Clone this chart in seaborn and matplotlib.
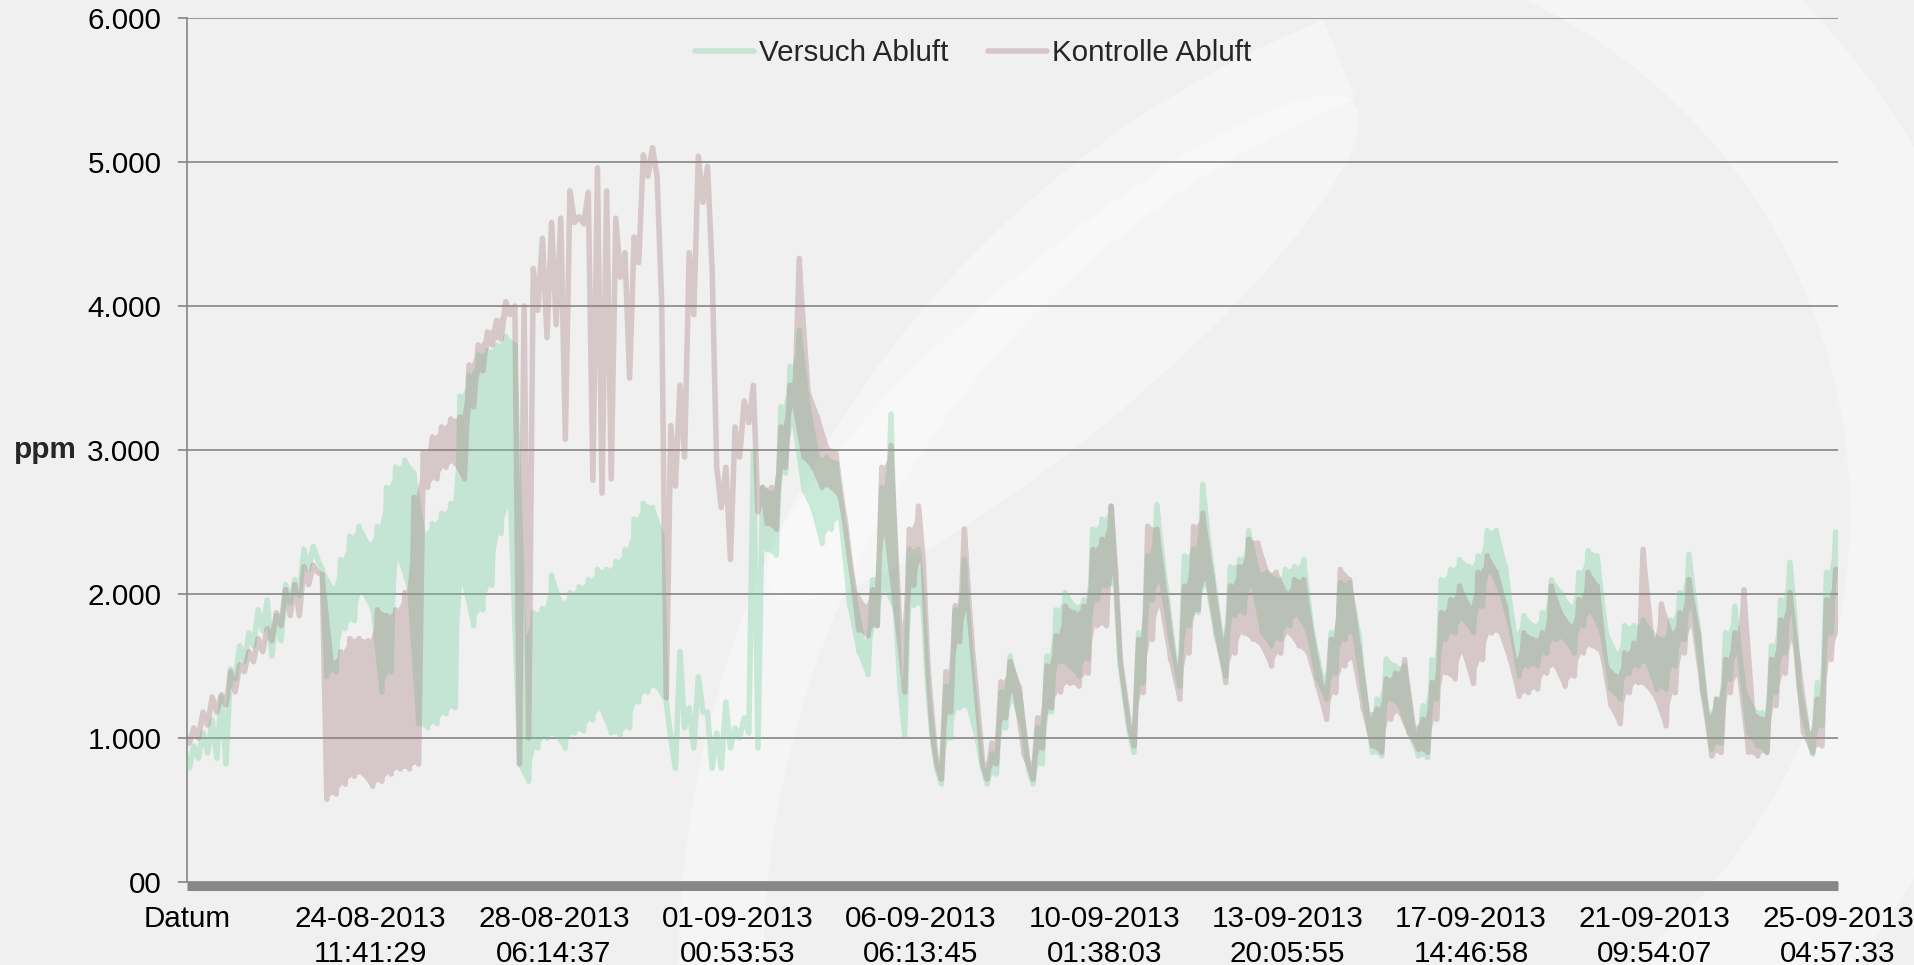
import numpy as np
import pandas as pd
import matplotlib
matplotlib.use("Agg")
import matplotlib.pyplot as plt
from matplotlib.patches import Wedge, Ellipse
from matplotlib.lines import Line2D
import seaborn as sns

# upper / lower value of each sample (ppm)
versuch_hi = [930, 945, 1035, 1125, 1285, 1480, 1640, 1730, 1890, 1960,
              1850, 2065, 2100, 2310, 2330, 2170, 2045, 2240, 2400, 2470,
              2350, 2470, 2740, 2880, 2930, 2840, 2420, 2490, 2560, 2630,
              3375, 3520, 3660, 3690, 3730, 3790, 3730, 1710, 1870, 1900,
              2130, 1940, 2010, 2050, 2100, 2170, 2170, 2225, 2310, 2520,
              2630, 2600, 2420, 1000, 1600, 1210, 1425, 1180, 1035, 1250,
              1070, 1140, 2990, 2740, 2700, 3300, 3580, 3830, 3300, 2950,
              2950, 2910, 2450, 1990, 1670, 2100, 2740, 3250, 1350, 2310,
              2310, 1355, 785, 1355, 1890, 2240, 1355, 785, 890, 1320,
              1570, 1320, 785, 1070, 1570, 1890, 2010, 1915, 1960, 2450,
              2520, 2610, 1500, 1035, 1730, 2265, 2620, 2055, 1545, 2265,
              2310, 2760, 2190, 1730, 2190, 2240, 2440, 2150, 2150, 2100,
              2170, 2190, 2240, 1730, 1430, 1730, 2080, 2080, 1730, 1130,
              1270, 1550, 1500, 1500, 1035, 1225, 1545, 2100, 2170, 2240,
              2190, 2265, 2440, 2440, 2190, 1730, 1850, 1780, 1870, 2100,
              2010, 1915, 2150, 2300, 2265, 1730, 1590, 1780, 1780, 1820,
              1730, 1685, 1820, 2010, 2275, 1780, 1175, 1270, 1730, 1915,
              1340, 1200, 1175, 1640, 1960, 2220, 1360, 1035, 1385, 2150,
              2430]
versuch_lo = [790, 860, 895, 860, 820, 1410, 1530, 1640, 1745, 1570,
              1675, 1940, 1990, 2170, 2240, 1425, 1460, 1760, 1815, 2010,
              1890, 1320, 1460, 2240, 2030, 1100, 1070, 1100, 1170, 1210,
              2065, 1780, 1890, 2060, 2420, 2600, 820, 700, 930, 1000,
              1020, 930, 1035, 1050, 1125, 1195, 1035, 1020, 1070, 1250,
              1320, 1355, 1250, 790, 1070, 930, 1180, 790, 790, 930,
              1000, 1035, 930, 2310, 2270, 2840, 3160, 2720, 2590, 2350,
              2450, 2520, 1920, 1600, 1440, 1780, 2030, 1890, 1020, 1920,
              1920, 1000, 680, 1000, 1210, 1210, 965, 680, 750, 1070,
              1250, 1035, 680, 820, 1180, 1530, 1500, 1430, 1550, 1960,
              2055, 2055, 1270, 900, 1385, 1960, 2080, 1685, 1360, 1780,
              1870, 2055, 1685, 1430, 1850, 1870, 2055, 1730, 1640, 1685,
              1780, 1850, 1730, 1410, 1270, 1450, 1685, 1730, 1315, 900,
              875, 1270, 1225, 1035, 875, 865, 1270, 1685, 1730, 1820,
              1730, 1915, 2150, 2010, 1780, 1430, 1500, 1500, 1590, 1685,
              1685, 1590, 1780, 1870, 1730, 1340, 1270, 1450, 1500, 1520,
              1340, 1340, 1500, 1685, 1915, 1360, 920, 965, 1410, 1590,
              1035, 945, 900, 1315, 1590, 1870, 1150, 885, 1085, 1730,
              2150]
kontrolle_hi = [1020, 1070, 1180, 1285, 1300, 1460, 1510, 1600, 1690, 1760,
                1870, 2030, 2065, 2190, 2200, 2135, 1530, 1600, 1690, 1690,
                1675, 1890, 1850, 1890, 2010, 2670, 2980, 3090, 3160, 3215,
                3230, 3590, 3730, 3820, 3900, 4030, 4000, 4000, 4260, 4470,
                4580, 4610, 4800, 4620, 4790, 4960, 4800, 4610, 4370, 4480,
                5050, 5100, 4030, 3170, 3450, 4370, 5040, 4970, 2880, 2880,
                3160, 3340, 3450, 2740, 2740, 3160, 3450, 4330, 3400, 3230,
                3020, 2980, 2520, 2030, 1920, 2030, 2880, 3030, 1780, 2450,
                2610, 1530, 820, 1460, 1920, 2450, 1530, 820, 965, 1390,
                1530, 1355, 820, 1140, 1500, 1710, 1915, 1870, 1915, 2310,
                2380, 2610, 1545, 1080, 1685, 2470, 2450, 1960, 1500, 2055,
                2470, 2560, 2125, 1685, 2055, 2190, 2380, 2355, 2150, 2150,
                2010, 2100, 2100, 1685, 1360, 1685, 2170, 2100, 1640, 1175,
                1200, 1410, 1450, 1545, 1080, 1130, 1385, 1870, 1960, 2055,
                1915, 2150, 2265, 2150, 1915, 1545, 1730, 1685, 1730, 2055,
                1870, 1780, 1960, 2150, 2055, 1500, 1430, 1590, 1660, 2310,
                1685, 1930, 1730, 1870, 2100, 1730, 1150, 1270, 1545, 1730,
                2030, 1175, 1130, 1545, 1820, 2010, 1500, 1035, 1270, 1960,
                2170]
kontrolle_lo = [965, 1000, 1090, 1180, 1230, 1320, 1460, 1530, 1600, 1675,
                1780, 1850, 1850, 2065, 2150, 575, 610, 680, 735, 750,
                665, 700, 750, 785, 785, 820, 2740, 2800, 2880, 2910,
                2800, 3300, 3550, 3730, 3770, 3940, 820, 1000, 3970, 3780,
                3870, 3075, 4580, 4570, 2790, 2700, 2800, 4200, 3500, 4300,
                4900, 4900, 1280, 2750, 2950, 3940, 4720, 4260, 2600, 2240,
                2950, 3190, 2570, 2490, 2450, 2880, 3300, 2950, 2880, 2740,
                2740, 2670, 2240, 1750, 1710, 1780, 2420, 1890, 1320, 2060,
                2240, 1035, 715, 1180, 1670, 1890, 1180, 715, 820, 1140,
                1320, 890, 715, 930, 1210, 1320, 1380, 1360, 1450, 1780,
                1780, 2150, 1315, 945, 1315, 1685, 1915, 1545, 1270, 1590,
                1890, 2100, 1730, 1385, 1590, 1730, 1685, 1640, 1500, 1590,
                1730, 1640, 1590, 1360, 1130, 1315, 1500, 1545, 1200, 945,
                900, 1130, 1175, 1035, 920, 900, 1130, 1455, 1410, 1590,
                1380, 1545, 1730, 1730, 1545, 1290, 1315, 1340, 1450, 1500,
                1360, 1430, 1590, 1640, 1590, 1225, 1100, 1315, 1385, 1360,
                1270, 1085, 1315, 1590, 1780, 1315, 875, 900, 1315, 1430,
                900, 875, 900, 1225, 1450, 1685, 1035, 900, 945, 1545,
                1730]

# sample ranges where the trace is a single spiky line, not a dense band
versuch_line_only = [(0, 14), (53, 62)]
kontrolle_line_only = [(0, 14), (36, 62)]

tick_dates = ["Datum", "24-08-2013", "28-08-2013", "01-09-2013", "06-09-2013",
              "10-09-2013", "13-09-2013", "17-09-2013", "21-09-2013", "25-09-2013"]
tick_times = ["", "11:41:29", "06:14:37", "00:53:53", "06:13:45",
              "01:38:03", "20:05:55", "14:46:58", "09:54:07", "04:57:33"]
y_ticks = [0, 1000, 2000, 3000, 4000, 5000, 6000]
y_labels = ["00", "1.000", "2.000", "3.000", "4.000", "5.000", "6.000"]

series = {"Versuch Abluft": (versuch_hi, versuch_lo, versuch_line_only),
          "Kontrolle Abluft": (kontrolle_hi, kontrolle_lo, kontrolle_line_only)}
colors = {"Versuch Abluft": "#74d2a0", "Kontrolle Abluft": "#a67e7e"}
ALPHA = 0.35

# each sample drawn as its upper then lower value -> dense trace like the original
rows = []
for name, (hi, lo, _) in series.items():
    for i in range(len(hi)):
        rows.append((name, i - 0.25, hi[i]))
        rows.append((name, i + 0.25, lo[i]))
df = pd.DataFrame(rows, columns=["Reihe", "pos", "ppm"])
pos = np.arange(len(versuch_hi))

sns.set_style("white")
plt.rcParams["font.family"] = ["Liberation Sans", "DejaVu Sans"]
fs = 21.3

fig = plt.figure(figsize=(19.15, 9.65), dpi=100, facecolor="#f0f0f0")

# faint logo watermark in the background
tr = fig.dpi_scale_trans
deco = [
    Wedge((12.82, 4.52), 7.3, -80, 72, width=1.62),
    Wedge((17.10, -0.12), 10.32, 112, 183, width=0.85),
    Ellipse((10.63, 6.17), 7.6, 1.7, angle=40),
]
for p in deco:
    p.set_transform(tr)
    p.set_facecolor("white")
    p.set_edgecolor("none")
    p.set_alpha(0.4)
    p.set_zorder(-1)
    fig.add_artist(p)

rect = [187 / 1915, 1 - 882 / 965, (1838 - 187) / 1915, (882 - 18) / 965]
ax = fig.add_axes(rect)
ax.set_facecolor("none")


def fade(a):
    # whole layer gets one transparency, like the original's translucent series
    def _apply(img, dpi):
        img = img.copy()
        img[..., 3] *= a
        return img, 0, 0
    return _apply


for name, (hi, lo, line_only) in series.items():
    band = np.ones(len(hi), dtype=bool)
    for a, b in line_only:
        band[a:b + 1] = False
    lay = fig.add_axes(rect, sharex=ax, sharey=ax, label=name)
    lay.set_axis_off()
    lay.fill_between(pos, lo, hi, where=band, color=colors[name], linewidth=0)
    sns.lineplot(data=df[df["Reihe"] == name], x="pos", y="ppm",
                 color=colors[name], estimator=None, linewidth=4,
                 legend=False, ax=lay)
    for line in lay.lines:
        line.set_solid_capstyle("round")
        line.set_solid_joinstyle("round")
    lay.set_agg_filter(fade(ALPHA))

ax.set_xlim(0, len(versuch_hi) - 1)
ax.set_ylim(0, 6000)
ax.set_yticks(y_ticks)
ax.set_yticklabels(y_labels)
step = (len(versuch_hi) - 1) // (len(tick_dates) - 1)
ax.set_xticks(range(0, len(versuch_hi), step))
ax.set_xticklabels([f"{d}\n{t}" if t else d for d, t in zip(tick_dates, tick_times)])

ax.yaxis.grid(True, color="#868686", linewidth=1.2)
ax.xaxis.grid(False)

for s in ["top", "right"]:
    ax.spines[s].set_visible(False)
ax.spines["left"].set_color("#868686")
ax.spines["left"].set_linewidth(1.2)
ax.spines["bottom"].set_color("#878787")
ax.spines["bottom"].set_linewidth(6.5)
ax.spines["bottom"].set_capstyle("butt")
ax.spines["bottom"].set_position(("outward", 3.2))

ax.tick_params(axis="y", left=True, length=6.5, width=1.2, color="#868686",
               pad=12, labelsize=fs, labelcolor="black")
ax.tick_params(axis="x", bottom=True, length=0, pad=13.5, labelsize=fs,
               labelcolor="black")
for lab in ax.get_xticklabels():
    lab.set_linespacing(1.32)

ax.set_xlabel("")
ax.set_ylabel("ppm", rotation=0, fontsize=fs, fontweight="bold",
              va="center", ha="center")
ax.yaxis.set_label_coords((45 - 187) / 1651, 0.5)

handles = [Line2D([], [], color=colors[n], alpha=ALPHA, linewidth=4,
                  solid_capstyle="round") for n in series]
fig.legend(handles, list(series), loc="center",
           bbox_to_anchor=(973 / 1915, 1 - 53 / 965), ncol=2, frameon=False,
           fontsize=fs, handlelength=2.0, handletextpad=0.15, columnspacing=1.35)

fig.savefig("out.png", dpi=100, facecolor=fig.get_facecolor())
